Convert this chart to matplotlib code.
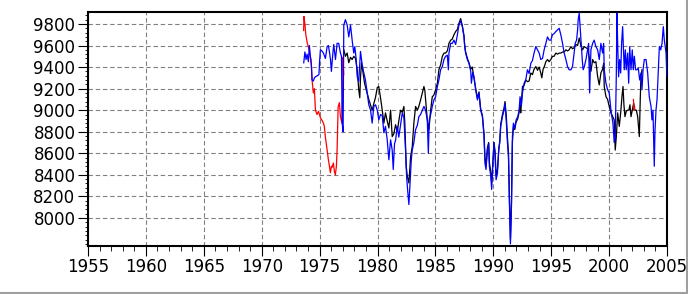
import matplotlib
matplotlib.use("Agg")
import matplotlib.pyplot as plt
from matplotlib.ticker import MultipleLocator
from matplotlib.lines import Line2D

# red series (two short pieces)
red_years = [1973.62, 1973.65, 1973.73, 1973.81, 1973.94, 1974.03, 1974.12, 1974.26, 1974.35, 1974.46,
             1974.55, 1974.64, 1974.78, 1974.90, 1975.07, 1975.24, 1975.33, 1975.41, 1975.50, 1975.65,
             1975.76, 1975.85, 1975.93, 1976.02, 1976.08, 1976.19, 1976.28, 1976.36, 1976.45, 1976.51,
             1976.60, 1976.71, 1976.80, 1976.88, 1976.94, 1976.99, 1977.02, 1977.08]
red_values = [9740, 9870, 9800, 9700, 9620, 9590, 9540, 9470, 9280, 9160,
              9200, 9000, 8960, 8990, 8930, 8900, 8880, 8850, 8750, 8630,
              8540, 8480, 8420, 8480, 8470, 8510, 8430, 8400, 8480, 8630,
              9030, 9070, 8940, 8900, 8880, 9200, 9490, 9330]
red2_years = [2002.10, 2002.15, 2002.20]
red2_values = [9100, 9000, 9030]

# black series
black_years = [1977.09, 1977.23, 1977.38, 1977.52, 1977.67, 1977.81, 1977.95, 1978.10, 1978.25, 1978.38,
               1978.47, 1978.53, 1978.62, 1978.75, 1978.88, 1979.05, 1979.25, 1979.40, 1979.54, 1979.68,
               1979.83, 1979.98, 1980.11, 1980.26, 1980.41, 1980.55, 1980.69, 1980.84, 1980.98, 1981.13,
               1981.27, 1981.41, 1981.56, 1981.71, 1981.84, 1981.99, 1982.14, 1982.28, 1982.36, 1982.48,
               1982.57, 1982.71, 1982.86, 1983.00, 1983.14, 1983.29, 1983.44, 1983.57, 1983.72, 1983.87,
               1984.01, 1984.09, 1984.15, 1984.30, 1984.44, 1984.59, 1984.73, 1984.87, 1985.02, 1985.17,
               1985.30, 1985.45, 1985.60, 1985.74, 1985.88, 1986.03, 1986.17, 1986.32, 1986.46, 1986.60,
               1986.75, 1986.90, 1987.03, 1987.18, 1987.33, 1987.47, 1987.53, 1987.61, 1987.76, 1987.90,
               1988.05, 1988.18, 1988.33, 1988.48, 1988.63, 1988.76, 1988.91, 1989.06, 1989.20, 1989.28,
               1989.37, 1989.49, 1989.60, 1989.66, 1989.78, 1989.86, 1989.95, 1990.06, 1990.15, 1990.24,
               1990.36, 1990.47, 1990.56, 1990.64, 1990.79, 1990.93, 1991.01, 1991.12, 1991.22, 1991.31,
               1991.39, 1991.48, 1991.57, 1991.65, 1991.74, 1991.85, 1991.97, 1992.11, 1992.23, 1992.31,
               1992.37, 1992.52, 1992.66, 1992.80, 1992.95, 1993.09, 1993.24, 1993.38, 1993.52, 1993.67,
               1993.82, 1993.96, 1994.10, 1994.19, 1994.30, 1994.39, 1994.54, 1994.68, 1994.82, 1994.97,
               1995.11, 1995.25, 1995.40, 1995.55, 1995.69, 1995.83, 1995.98, 1996.12, 1996.27, 1996.41,
               1996.55, 1996.70, 1996.84, 1996.98, 1997.13, 1997.28, 1997.42, 1997.56, 1997.71, 1997.85,
               1998.00, 1998.14, 1998.32, 1998.43, 1998.58, 1998.71, 1998.86, 1999.01, 1999.15, 1999.29,
               1999.44, 1999.53, 1999.58, 1999.73, 1999.87, 2000.01, 2000.16, 2000.31, 2000.44, 2000.53,
               2000.62, 2000.74, 2000.88, 2001.02, 2001.11, 2001.20, 2001.28, 2001.37, 2001.48, 2001.60,
               2001.71, 2001.80, 2001.89, 2002.00, 2002.12, 2002.23, 2002.35, 2002.47, 2002.61, 2002.69,
               2002.75, 2002.84]
black_values = [9560, 9500, 9530, 9440, 9490, 9470, 9500, 9480, 9375, 9190,
                9115, 9300, 9440, 9350, 9250, 9180, 9100, 9050, 9000, 9060,
                9120, 9210, 9220, 9115, 9000, 8880, 8975, 8900, 8835, 9000,
                8755, 8780, 8865, 8800, 8900, 9000, 8980, 9035, 8880, 8480,
                8390, 8325, 8570, 8660, 8880, 9035, 9000, 9035, 9095, 9160,
                9220, 9180, 9100, 8910, 8820, 9000, 9125, 9140, 9190, 9250,
                9375, 9420, 9500, 9530, 9530, 9550, 9620, 9650, 9660, 9700,
                9730, 9750, 9805, 9850, 9780, 9690, 9600, 9540, 9480, 9440,
                9380, 9400, 9300, 9200, 9110, 9170, 9010, 8950, 8780, 8560,
                8480, 8650, 8700, 8520, 8420, 8330, 8500, 8700, 8620, 8400,
                8450, 8620, 8720, 8870, 8960, 9020, 9080, 8950, 8750, 8600,
                8200, 7800, 8150, 8700, 8850, 8820, 8890, 8920, 8980, 9050,
                8975, 9220, 9230, 9280, 9265, 9270, 9345, 9330, 9380, 9405,
                9370, 9400, 9345, 9300, 9380, 9400, 9450, 9470, 9450, 9470,
                9500, 9500, 9530, 9520, 9530, 9530, 9540, 9540, 9560, 9550,
                9560, 9590, 9570, 9580, 9610, 9600, 9670, 9600, 9560, 9590,
                9580, 9570, 9470, 9360, 9470, 9440, 9450, 9310, 9235, 9345,
                9380, 9435, 9220, 9125, 9100, 9035, 8975, 8940, 8910, 8630,
                8750, 8975, 8850, 9000, 9125, 9220, 9050, 8940, 8990, 9000,
                9000, 9050, 8940, 9000, 9065, 9000, 9000, 8940, 8755, 9100,
                9310, 9375]

# blue series
blue_years = [1973.63, 1973.73, 1973.83, 1973.92, 1974.03, 1974.12, 1974.21, 1974.29, 1974.35, 1974.46,
              1974.55, 1974.64, 1974.81, 1974.94, 1975.01, 1975.07, 1975.20, 1975.33, 1975.50, 1975.65,
              1975.76, 1975.85, 1975.94, 1976.02, 1976.13, 1976.22, 1976.37, 1976.51, 1976.65, 1976.80,
              1976.89, 1976.95, 1977.03, 1977.09, 1977.23, 1977.38, 1977.52, 1977.67, 1977.81, 1977.95,
              1978.04, 1978.16, 1978.25, 1978.38, 1978.53, 1978.68, 1978.82, 1978.96, 1979.11, 1979.25,
              1979.40, 1979.54, 1979.68, 1979.83, 1979.98, 1980.11, 1980.26, 1980.41, 1980.55, 1980.69,
              1980.84, 1980.98, 1981.13, 1981.27, 1981.36, 1981.47, 1981.56, 1981.71, 1981.84, 1981.99,
              1982.14, 1982.28, 1982.42, 1982.51, 1982.62, 1982.71, 1982.80, 1982.92, 1983.00, 1983.14,
              1983.29, 1983.44, 1983.57, 1983.72, 1983.87, 1984.01, 1984.15, 1984.30, 1984.39, 1984.47,
              1984.59, 1984.73, 1984.87, 1985.02, 1985.17, 1985.30, 1985.45, 1985.60, 1985.74, 1985.88,
              1986.03, 1986.12, 1986.17, 1986.32, 1986.46, 1986.60, 1986.75, 1986.90, 1987.03, 1987.18,
              1987.33, 1987.47, 1987.53, 1987.61, 1987.76, 1987.90, 1988.05, 1988.11, 1988.22, 1988.33,
              1988.48, 1988.63, 1988.76, 1988.91, 1989.06, 1989.20, 1989.28, 1989.37, 1989.49, 1989.60,
              1989.66, 1989.78, 1989.86, 1989.95, 1990.06, 1990.15, 1990.24, 1990.36, 1990.47, 1990.56,
              1990.64, 1990.79, 1990.93, 1991.01, 1991.12, 1991.22, 1991.31, 1991.39, 1991.48, 1991.57,
              1991.65, 1991.74, 1991.85, 1991.97, 1992.11, 1992.23, 1992.31, 1992.42, 1992.52, 1992.66,
              1992.80, 1992.95, 1993.09, 1993.24, 1993.38, 1993.52, 1993.67, 1993.82, 1993.96, 1994.10,
              1994.25, 1994.39, 1994.54, 1994.68, 1994.82, 1994.97, 1995.11, 1995.25, 1995.40, 1995.55,
              1995.69, 1995.83, 1995.98, 1996.12, 1996.27, 1996.41, 1996.55, 1996.70, 1996.84, 1996.98,
              1997.07, 1997.19, 1997.28, 1997.33, 1997.42, 1997.50, 1997.59, 1997.68, 1997.76, 1997.85,
              1998.00, 1998.14, 1998.23, 1998.32, 1998.43, 1998.58, 1998.71, 1998.86, 1999.01, 1999.15,
              1999.29, 1999.44, 1999.53, 1999.58, 1999.73, 1999.87, 2000.01, 2000.16, 2000.24, 2000.33,
              2000.44, 2000.53, 2000.62, 2000.68, 2000.74, 2000.82, 2000.91, 2001.00, 2001.08, 2001.17,
              2001.22, 2001.31, 2001.40, 2001.48, 2001.60, 2001.69, 2001.78, 2001.89, 2002.00, 2002.09,
              2002.18, 2002.29, 2002.41, 2002.52, 2002.64, 2002.75, 2002.84, 2002.93, 2003.04, 2003.19,
              2003.33, 2003.47, 2003.62, 2003.70, 2003.79, 2003.85, 2003.90, 2003.96, 2004.05, 2004.14,
              2004.25, 2004.34, 2004.46, 2004.57, 2004.68, 2004.77, 2004.92, 2004.99]
blue_values = [9440, 9540, 9470, 9520, 9450, 9600, 9485, 9420, 9280, 9270,
               9300, 9310, 9320, 9330, 9470, 9560, 9550, 9530, 9480, 9590,
               9600, 9540, 9470, 9360, 9510, 9610, 9470, 9620, 9620, 9530,
               9500, 8880, 8800, 9790, 9840, 9790, 9680, 9790, 9650, 9530,
               9590, 9470, 9310, 9265, 9545, 9420, 9345, 9280, 9160, 9050,
               9000, 8880, 9035, 9050, 9000, 8910, 8960, 8950, 8790, 8850,
               8725, 8540, 8725, 8630, 8450, 8690, 8720, 8850, 8750, 8860,
               8975, 8930, 8630, 8390, 8235, 8125, 8300, 8540, 8630, 8700,
               8820, 8860, 8940, 8960, 9000, 9035, 9000, 8910, 8600, 8910,
               8960, 9035, 9095, 9125, 9220, 9280, 9375, 9405, 9470, 9500,
               9510, 9375, 9530, 9620, 9620, 9650, 9610, 9700, 9790, 9830,
               9775, 9680, 9590, 9530, 9470, 9435, 9360, 9250, 9350, 9310,
               9190, 9095, 9160, 9000, 8940, 8755, 8510, 8450, 8630, 8690,
               8480, 8390, 8265, 8480, 8700, 8580, 8355, 8415, 8650, 8700,
               8850, 8940, 9000, 9065, 8900, 8700, 8570, 8140, 7760, 8110,
               8755, 8880, 8830, 8910, 8940, 9000, 9125, 9035, 9160, 9250,
               9280, 9375, 9340, 9435, 9460, 9530, 9590, 9560, 9530, 9470,
               9480, 9560, 9620, 9680, 9650, 9650, 9700, 9710, 9730, 9745,
               9760, 9700, 9620, 9530, 9470, 9405, 9375, 9375, 9405, 9530,
               9620, 9650, 9745, 9840, 9900, 9775, 9620, 9470, 9375, 9400,
               9470, 9560, 9620, 9160, 9560, 9620, 9650, 9590, 9560, 9470,
               9620, 9530, 9620, 9375, 9250, 9190, 9160, 9000, 8940, 8880,
               8700, 8740, 9310, 9900, 9620, 9310, 9470, 9345, 9620, 9775,
               9620, 9375, 9560, 9375, 9530, 9250, 9590, 9375, 9560, 9375,
               9500, 9375, 9375, 9390, 9280, 9345, 9190, 9375, 9470, 9470,
               9345, 9125, 9035, 8910, 9000, 8700, 8480, 8800, 9000, 9100,
               9375, 9590, 9560, 9620, 9775, 9650, 9530, 9310]

fig = plt.figure(figsize=(6.88, 2.94), dpi=100)
ax = fig.add_axes([88 / 688, 48 / 294, 579 / 688, 234 / 294])

ax.plot(black_years, black_values, color="black", lw=0.9, zorder=3)
ax.plot(red_years, red_values, color="#ff0000", lw=0.9, zorder=4)
ax.plot(red2_years, red2_values, color="#ff0000", lw=0.9, zorder=4)
ax.plot(blue_years, blue_values, color="#0000ff", lw=0.9, zorder=5)

ax.set_xlim(1955, 2005)
ax.set_ylim(7740, 9911)

ax.xaxis.set_major_locator(MultipleLocator(5))
ax.xaxis.set_minor_locator(MultipleLocator(1))
ax.yaxis.set_minor_locator(MultipleLocator(40))
ax.set_yticks([8000, 8200, 8400, 8600, 8800, 9000, 9200, 9400, 9600, 9800])

ax.grid(True, which="major", color="#808080", linestyle=(0, (4, 2.5)), linewidth=0.8)
ax.set_axisbelow(True)

ax.tick_params(axis="both", which="major", direction="out", length=7, width=0.8,
               labelsize=12, pad=2, color="black")
ax.tick_params(axis="both", which="minor", direction="out", length=3.5, width=0.6)
ax.tick_params(axis="y", which="minor", length=2.5)
for lab in ax.get_xticklabels() + ax.get_yticklabels():
    lab.set_family("DejaVu Sans")

for sp in ax.spines.values():
    sp.set_linewidth(1.5)
    sp.set_color("black")

# light grey window border at the bottom and right
fig.add_artist(Line2D([0, 1], [0.002, 0.002], transform=fig.transFigure, color="#a0a0a0", lw=1.5))
fig.add_artist(Line2D([0.998, 0.998], [0, 1], transform=fig.transFigure, color="#a0a0a0", lw=1.5))

fig.savefig("out.png", dpi=100)
